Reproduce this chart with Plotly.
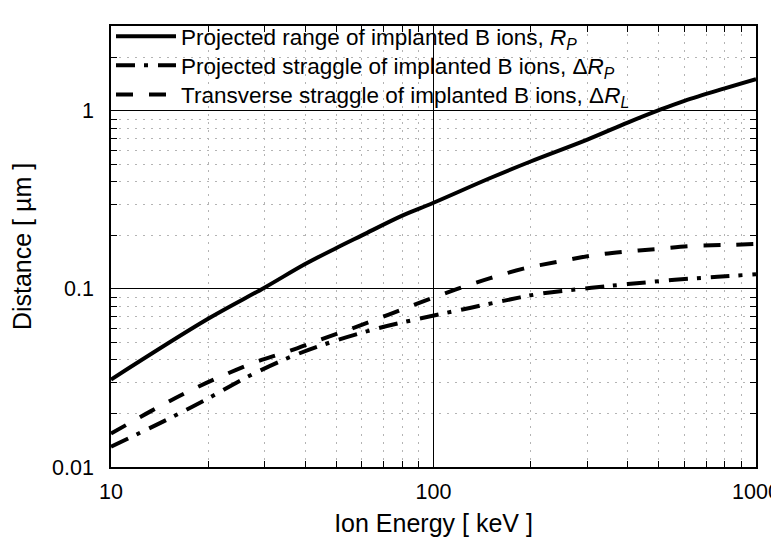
import plotly.graph_objects as go

# --- data (energy in keV, distance in um) ---
E_rp = [10, 20, 30, 40, 50, 60, 80, 100, 150, 200, 300, 400, 500, 600, 800, 1000]
Rp = [0.031, 0.068, 0.102, 0.138, 0.17, 0.20, 0.258, 0.305, 0.42, 0.52, 0.69, 0.86, 1.01, 1.14, 1.34, 1.51]

E_drp = [10, 14.6, 19.7, 26.4, 36, 49.3, 67, 90, 123, 166, 214, 309, 400, 560, 760, 1000]
dRp = [0.0130, 0.0181, 0.0239, 0.032, 0.0415, 0.051, 0.060, 0.068, 0.0767, 0.086, 0.094, 0.1015, 0.1065, 0.1125, 0.117, 0.121]

E_drl = [10, 13.3, 17.1, 21.7, 27.9, 35.3, 45.3, 57.4, 73, 92.5, 118.6, 150, 190, 245, 309, 393, 498, 640, 813, 1000]
dRl = [0.0154, 0.0206, 0.0262, 0.032, 0.0387, 0.0445, 0.0525, 0.061, 0.072, 0.085, 0.100, 0.115, 0.130, 0.1425, 0.154, 0.162, 0.168, 0.1745, 0.1767, 0.179]

names = [
    "Projected range of implanted B ions, <i>R<sub>P</sub></i>",
    "Projected straggle of implanted B ions, Δ<i>R<sub>P</sub></i>",
    "Transverse straggle of implanted B ions, Δ<i>R<sub>L</sub></i>",
]

x_ticks = [10, 100, 1000]
x_ticktext = ["10", "100", "1000"]
y_ticks = [0.01, 0.1, 1]
y_ticktext = ["0.01", "0.1", "1"]

FONT = "Liberation Sans, Arial, sans-serif"

fig = go.Figure()
fig.add_trace(go.Scatter(x=E_rp, y=Rp, mode="lines", name=names[0], legend="legend",
                         line=dict(color="black", width=4, shape="spline")))
fig.add_trace(go.Scatter(x=E_drp, y=dRp, mode="lines", name=names[1], legend="legend2",
                         line=dict(color="black", width=4, shape="spline", dash="19px,9px,4px,10px")))
fig.add_trace(go.Scatter(x=E_drl, y=dRl, mode="lines", name=names[2], legend="legend3",
                         line=dict(color="black", width=4, shape="spline", dash="17px,16px")))

minor_x = [m * d for d in (10, 100) for m in range(2, 10)]
minor_y = [m * d for d in (0.01, 0.1, 1) for m in range(2, 10)]

axis_common = dict(
    type="log",
    showline=True, linecolor="black", linewidth=1.5, mirror="allticks",
    ticks="inside", ticklen=9, tickwidth=1.2, tickcolor="black",
    showgrid=True, gridcolor="black", gridwidth=1,
    tickfont=dict(family=FONT, size=21.5, color="black"),
    zeroline=False, automargin=False,
)

minor_common = dict(ticks="inside", ticklen=6, tickcolor="black", tickwidth=1.2,
                    showgrid=True, gridcolor="#b4b4b4", griddash="2px,6px", gridwidth=1)

fig.update_xaxes(
    **axis_common,
    range=[1, 3],
    tickvals=x_ticks, ticktext=x_ticktext,
    ticklabelstandoff=4,
    minor=dict(tickvals=minor_x, **minor_common),
    title=dict(text="Ion Energy [ keV ]", font=dict(family=FONT, size=25, color="black"), standoff=12),
)
fig.update_yaxes(
    **axis_common,
    range=[-2, 0.477],
    tickvals=y_ticks, ticktext=y_ticktext,
    ticklabelstandoff=11,
    minor=dict(tickvals=minor_y, **minor_common),
    title=dict(text="Distance [ µm ]", font=dict(family=FONT, size=25, color="black"), standoff=14),
)

leg_common = dict(x=0.0, xanchor="left", yanchor="middle",
                  bgcolor="rgba(255,255,255,0)", borderwidth=0,
                  font=dict(family=FONT, size=22.5, color="black"),
                  itemwidth=60, tracegroupgap=0)

fig.update_layout(
    width=779, height=540,
    margin=dict(l=103, r=31, t=7, b=81),
    paper_bgcolor="white", plot_bgcolor="white",
    font=dict(family=FONT, color="black"),
    showlegend=True,
    legend=dict(y=0.976, **leg_common),
    legend2=dict(y=0.910, **leg_common),
    legend3=dict(y=0.844, **leg_common),
)

fig.write_html("out.html")
